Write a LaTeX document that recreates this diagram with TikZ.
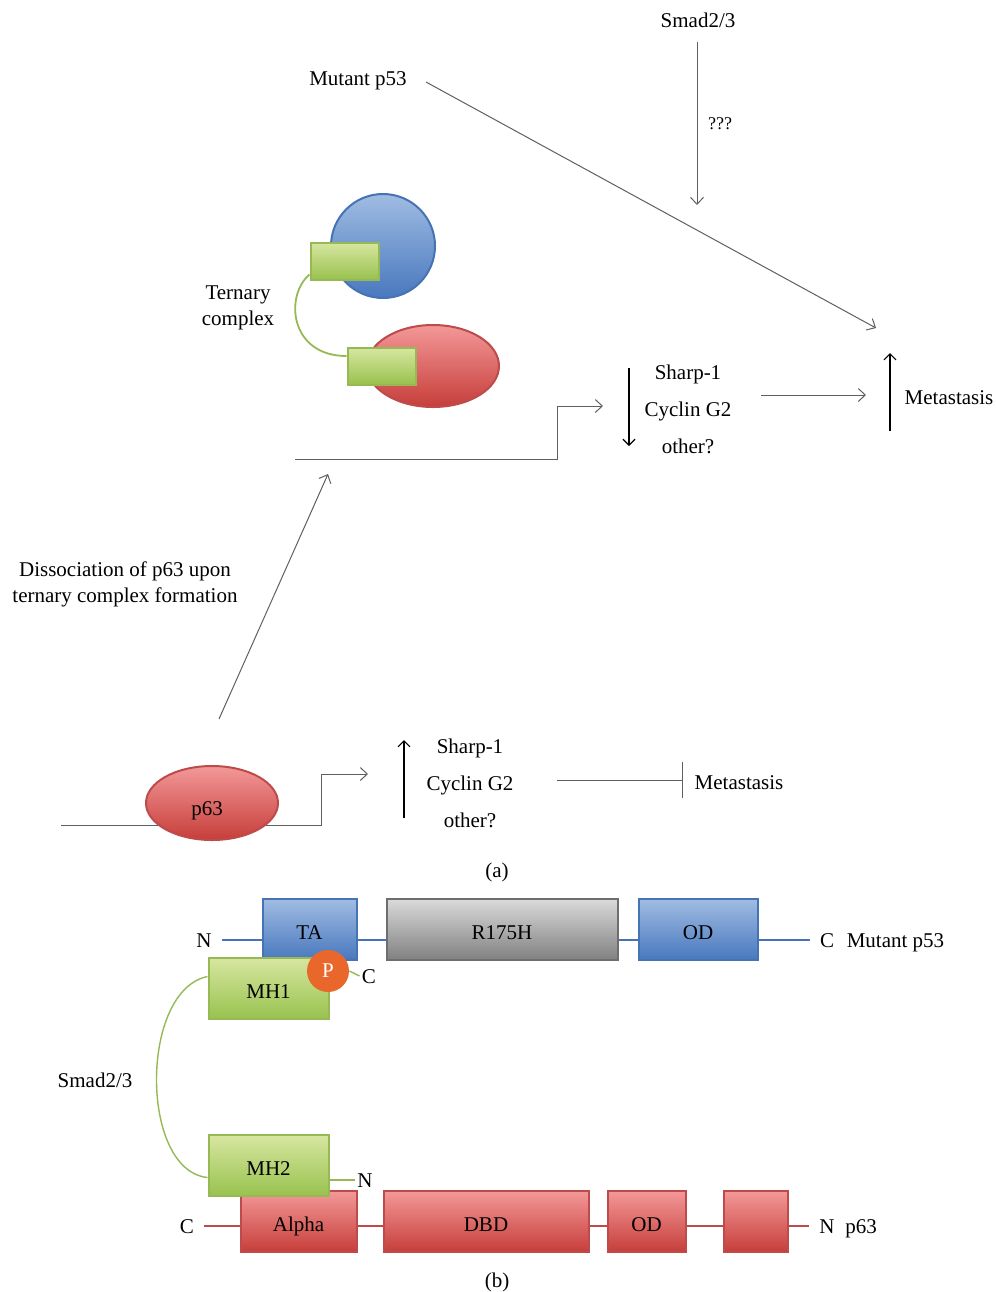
\documentclass[tikz,border=0pt]{standalone}
\usepackage{fontspec}
\setmainfont{Liberation Serif}
\usetikzlibrary{arrows.meta,positioning,shapes.geometric}
\definecolor{lnk}{RGB}{95,95,95}
\definecolor{bluetop}{RGB}{160,188,226}
\definecolor{bluebot}{RGB}{72,120,190}
\definecolor{blueline}{RGB}{70,115,180}
\definecolor{redtop}{RGB}{243,152,152}
\definecolor{redbot}{RGB}{198,62,58}
\definecolor{redline}{RGB}{190,75,75}
\definecolor{greentop}{RGB}{215,230,160}
\definecolor{greenbot}{RGB}{152,194,78}
\definecolor{greenline}{RGB}{150,185,85}
\definecolor{graytop}{RGB}{218,218,218}
\definecolor{graybot}{RGB}{128,128,128}
\definecolor{grayline}{RGB}{110,110,110}
\definecolor{porange}{RGB}{233,103,42}

\begin{document}
\begin{tikzpicture}[x=0.5pt, y=-0.5pt,
  lbl/.style={font=\fontsize{10.5}{12.5}\selectfont, inner sep=1pt,
    text height=8.3pt, text depth=1.2pt},
  twoline/.style={font=\fontsize{10.5}{13}\selectfont, align=center, inner sep=1pt},
  genes/.style={font=\fontsize{10.5}{18.5}\selectfont, align=center, inner sep=1pt},
  arr/.style={-{Straight Barb[length=3.5pt,width=6.5pt]}, lnk, line width=0.5pt},
  updown/.style={-{Straight Barb[length=3pt,width=6pt]}, black, line width=0.6pt},
  blocked/.style={-{Bar[width=18pt]}, lnk, line width=0.5pt},
  dom/.style={draw, line width=1pt, inner sep=0pt, minimum height=30.5pt,
    text height=9.9pt, text depth=0pt, font=\fontsize{10.5}{12.5}\selectfont},
  bluedom/.style={dom, draw=blueline, top color=bluetop, bottom color=bluebot},
  reddom/.style={dom, draw=redline, top color=redtop, bottom color=redbot},
  greendom/.style={dom, draw=greenline, top color=greentop, bottom color=greenbot},
  graydom/.style={dom, draw=grayline, top color=graytop, bottom color=graybot},
  link/.style={greenline, line width=0.9pt},
]
\useasboundingbox (0,0) rectangle (996,1292);

% (a)
\node[lbl] (smad) at (698,20) {Smad2/3};
\node[lbl] (mutp) at (358,78) {Mutant p53};
\coordinate (smadstart) at (697,42);
\coordinate (smadend) at (697,205);
\draw[arr] (smadstart) -- node[midway, right=2pt, text=black, font=\fontsize{9}{10}\selectfont] {???} (smadend);
\coordinate (mutstart) at (426,82);
\coordinate (mutend) at (876,328);
\draw[arr] (mutstart) -- (mutend);

\node[circle, draw=blueline, line width=1pt, top color=bluetop, bottom color=bluebot,
  minimum size=52pt, inner sep=0pt] (mutball) at (383,246) {};
\node[ellipse, draw=redline, line width=1pt, top color=redtop, bottom color=redbot,
  minimum width=66pt, minimum height=41pt, inner sep=0pt] (p63ball) at (433,366) {};
\node[draw=greenline, line width=1pt, top color=greentop, bottom color=greenbot,
  minimum width=34pt, minimum height=18.5pt, inner sep=0pt] (gone) at (344.5,261) {};
\node[draw=greenline, line width=1pt, top color=greentop, bottom color=greenbot,
  minimum width=34pt, minimum height=18.5pt, inner sep=0pt] (gtwo) at (381.5,366) {};
\draw[link] ([yshift=3pt]gone.south west) .. controls +(-25,21) and +(-57,0) .. ([yshift=5pt]gtwo.west);
\node[twoline] (tern) at (238,308) {Ternary\\complex};

\coordinate (promA) at (295,459);
\coordinate (promAend) at (603,406);
\draw[arr] (promA) -- (557,459) |- (promAend);
\node[genes] (genesA) at (688,409) {Sharp-1\\Cyclin G2\\other?};
\draw[updown] (629,368) -- (629,446);
\coordinate (toMet) at (866,395);
\draw[arr] (761,395) -- (toMet);
\draw[updown] (890,431) -- (890,353);
\node[lbl] (metA) at (949,397) {Metastasis};

\coordinate (dissA) at (219,719);
\coordinate (dissB) at (328,474);
\draw[arr] (dissA) -- (dissB);
\node[twoline] (diss) at (125,584) {Dissociation of p63 upon\\ternary complex formation};

\coordinate (promB) at (61,825);
\coordinate (promBend) at (368,774);
\draw[arr] (promB) -- (321,825) |- (promBend);
\node[ellipse, draw=redline, line width=1pt, top color=redtop, bottom color=redbot,
  minimum width=66pt, minimum height=37pt, inner sep=0pt,
  font=\fontsize{10.5}{12.5}\selectfont] (p63) at (212,803) {};
\node[lbl] at (207,808) {p63};
\node[genes] (genesB) at (470,783) {Sharp-1\\Cyclin G2\\other?};
\draw[updown] (404,818) -- (404,740);
\node[lbl] (metB) at (739,782) {Metastasis};
\draw[blocked] (557,780) -- (683,780);
\node[lbl] (capa) at (497,870) {(a)};

% (b)
\node[lbl] (nfiftythree) at (204,940) {N};
\node[lbl] (cfiftythree) at (827,940) {C};
\node[lbl, right=4pt of cfiftythree] (mutlab) {Mutant p53};
\draw[blueline, line width=0.7pt, shorten <=4pt, shorten >=4pt] (nfiftythree) -- (cfiftythree);
\node[bluedom, minimum width=47pt] (ta) at (309.5,929.5) {TA};
\node[graydom, minimum width=115.5pt] (rmut) at (502,929.5) {R175H};
\node[bluedom, minimum width=59.5pt] (odp) at (698,929.5) {OD};

\node[lbl] (csixtythree) at (187,1226) {C};
\node[lbl] (nsixtythree) at (827,1226) {N};
\node[lbl, right=3pt of nsixtythree] (p63lab) {p63};
\draw[redline, line width=0.7pt, shorten <=4pt, shorten >=4pt] (csixtythree) -- (nsixtythree);
\node[reddom, minimum width=58pt] (alpha) at (298.5,1221.5) {Alpha};
\node[reddom, minimum width=102.5pt] (dbd) at (486,1221.5) {DBD};
\node[reddom, minimum width=39pt] (odq) at (646.5,1221.5) {OD};
\node[reddom, minimum width=32pt] (tad) at (755.5,1221.5) {};

\node[greendom, minimum width=60pt] (mhone) at (268.5,988.5) {MH1};
\node[circle, fill=porange, minimum size=21pt, inner sep=0pt, text=white,
  font=\fontsize{10.5}{12.5}\selectfont] (phos) at (328,971) {P};
\node[lbl] (cmh) at (369,976) {C};
\draw[link, line width=0.7pt] (phos.east) -- (cmh.west);

\node[greendom, minimum width=60pt] (mhtwo) at (268.5,1165.5) {MH2};
\node[lbl] (nmh) at (365,1180) {N};
\draw[link, line width=0.7pt] (mhtwo.east |- nmh) -- (nmh.west);

\draw[link, line width=0.7pt] ([yshift=6pt]mhone.west) .. controls +(-68,14) and +(-68,-7) .. ([yshift=-6pt]mhtwo.west);
\node[lbl] (smadb) at (95,1080) {Smad2/3};
\node[lbl] (capb) at (497,1280) {(b)};
\end{tikzpicture}
\end{document}
